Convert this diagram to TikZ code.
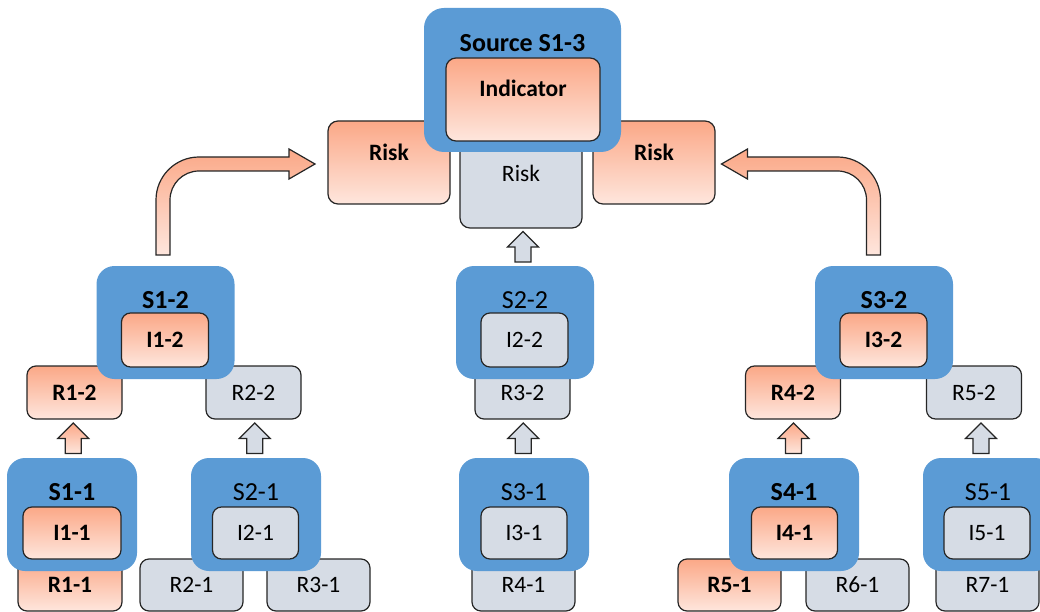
\documentclass[tikz,border=0pt]{standalone}
\usepackage{fontspec}
\setmainfont{Carlito}
\usetikzlibrary{calc}
\definecolor{otop}{RGB}{251,168,135}
\definecolor{obot}{RGB}{254,230,221}
\definecolor{gfill}{RGB}{214,220,229}
\definecolor{blue1}{RGB}{91,155,213}
\definecolor{bd}{RGB}{38,38,38}
\newcommand\fsA{\fontsize{23.5pt}{28pt}\selectfont}
\newcommand\fsB{\fontsize{26pt}{30pt}\selectfont}
\tikzset{
  bx/.style={draw=bd, line width=1.2pt, rounded corners=9pt, inner sep=0pt, outer sep=0pt, text=black, font=\fsA},
  ob/.style={bx, top color=otop, bottom color=obot, font=\fsA\bfseries},
  gb/.style={bx, fill=gfill},
  sb/.style={fill=blue1, rounded corners=18pt, inner sep=0pt, outer sep=0pt},
  slo/.style={anchor=center, yshift=-34pt, font=\fsB\bfseries, text=black},
  slg/.style={anchor=center, yshift=-34pt, font=\fsB, text=black},
  tlo/.style={anchor=center, font=\fsA\bfseries, text=black},
  tlg/.style={anchor=center, font=\fsA, text=black},
  r2/.style={minimum width=95pt, minimum height=53pt},
  i2/.style={minimum width=87pt, minimum height=54pt},
  s2/.style={minimum width=138pt, minimum height=113pt},
  r1/.style={minimum width=103pt, minimum height=52pt},
  i1/.style={minimum width=86pt, minimum height=52pt},
  s1/.style={minimum width=130pt, minimum height=113pt},
  oar/.style={draw=bd, line width=1.2pt, top color=otop, bottom color=obot, line join=miter},
  gar/.style={draw=bd, line width=1.2pt, fill=gfill, line join=miter},
  pics/uarr/.style={code={\path[#1] (0,-15.5) -- (15.5,0) -- (8,0) -- (8,15) -- (-8,15) -- (-8,0) -- (-15.5,0) -- cycle;}}
}
\newcommand\bentarrow{%
  \path[oar] (156,255) -- (156,200) .. controls (156,176.25) and (175.25,157) .. (199,157)
    -- (289,157) -- (289,149) -- (315,164) -- (289,179) -- (289,171) -- (199,171)
    .. controls (183,171) and (170,184) .. (170,200) -- (170,255) -- cycle;}
\begin{document}
\begin{tikzpicture}[x=1pt, y=-1pt]
\useasboundingbox (0,0) rectangle (1040,612);
\clip (0,0) rectangle (1040,612);
% top level
\node[ob, minimum width=122pt, minimum height=83pt, rounded corners=10pt, label={[tlo, yshift=10.5pt]center:Risk}] (riskL) at (389,162.5) {};
\node[ob, minimum width=122pt, minimum height=83pt, rounded corners=10pt, label={[tlo, yshift=10.5pt]center:Risk}] (riskR) at (654,162.5) {};
\node[gb, minimum width=122pt, minimum height=88pt, rounded corners=10pt, label={[tlg, yshift=11pt]center:Risk}] (riskC) at (521,184) {};
\node[sb, minimum width=197pt, minimum height=144pt, rounded corners=20pt, label={[tlo, font=\fsB\bfseries, yshift=-35pt]north:Source S1-3}] (src) at (522.5,80) {};
\node[ob, minimum width=154pt, minimum height=83pt, rounded corners=10pt, label={[tlo, yshift=11.5pt]center:Indicator}] (ind) at (523,99.5) {};
% bent arrows
\bentarrow
\begin{scope}[shift={(1036.5,0)}, xscale=-1]
\bentarrow
\end{scope}
% level 2
\node[ob, r2] (r12) at (74.5,392.5) {R1-2};
\node[gb, r2] (r22) at (253.5,392.5) {R2-2};
\node[gb, r2] (r32) at (522.5,392.5) {R3-2};
\node[ob, r2] (r42) at (793,392.5) {R4-2};
\node[gb, r2] (r52) at (974,392.5) {R5-2};
\node[sb, s2, label={[slo]north:S1-2}] (s12) at (165.5,322.5) {};
\node[sb, s2, label={[slg]north:S2-2}] (s22) at (525,322.5) {};
\node[sb, s2, label={[slo]north:S3-2}] (s32) at (884,322.5) {};
\node[ob, i2] (i12) at (165,340) {I1-2};
\node[gb, i2] (i22) at (524.5,340) {I2-2};
\node[ob, i2] (i32) at (883.5,340) {I3-2};
% level 1
\node[ob, r1, minimum width=104pt] (r11) at (70,585) {R1-1};
\node[gb, r1] (r21) at (191.5,585) {R2-1};
\node[gb, r1] (r31) at (318.5,585) {R3-1};
\node[gb, r1] (r41) at (523.5,585) {R4-1};
\node[ob, r1] (r51) at (729.5,585) {R5-1};
\node[gb, r1] (r61) at (857.5,585) {R6-1};
\node[gb, r1] (r71) at (987.5,585) {R7-1};
\node[sb, s1, label={[slo]north:S1-1}] (s11) at (72,514.5) {};
\node[sb, s1, label={[slg]north:S2-1}] (s21) at (256,514.5) {};
\node[sb, s1, label={[slg]north:S3-1}] (s31) at (524,514.5) {};
\node[sb, s1, label={[slo]north:S4-1}] (s41) at (794,514.5) {};
\node[sb, s1, label={[slg]north:S5-1}] (s51) at (988,514.5) {};
\node[ob, i1, minimum width=98pt] (i11) at (72,533) {I1-1};
\node[gb, i1] (i21) at (255.5,533) {I2-1};
\node[gb, i1] (i31) at (524,533) {I3-1};
\node[ob, i1] (i41) at (794.5,533) {I4-1};
\node[gb, i1] (i51) at (987,533) {I5-1};
% block arrows
\pic at ($(riskC.south)!.5!(s22.north)$) {uarr=gar};
\pic at ($(r12.south)!.5!(s11.north)$) {uarr=oar};
\pic at ($(r22.south)!.5!(s21.north)$) {uarr=gar};
\pic at ($(r32.south)!.5!(s31.north)$) {uarr=gar};
\pic at ($(r42.south)!.5!(s41.north)$) {uarr=oar};
\pic at ($(r52.south)!.5!(s51.north)$) {uarr=gar};
\end{tikzpicture}
\end{document}
